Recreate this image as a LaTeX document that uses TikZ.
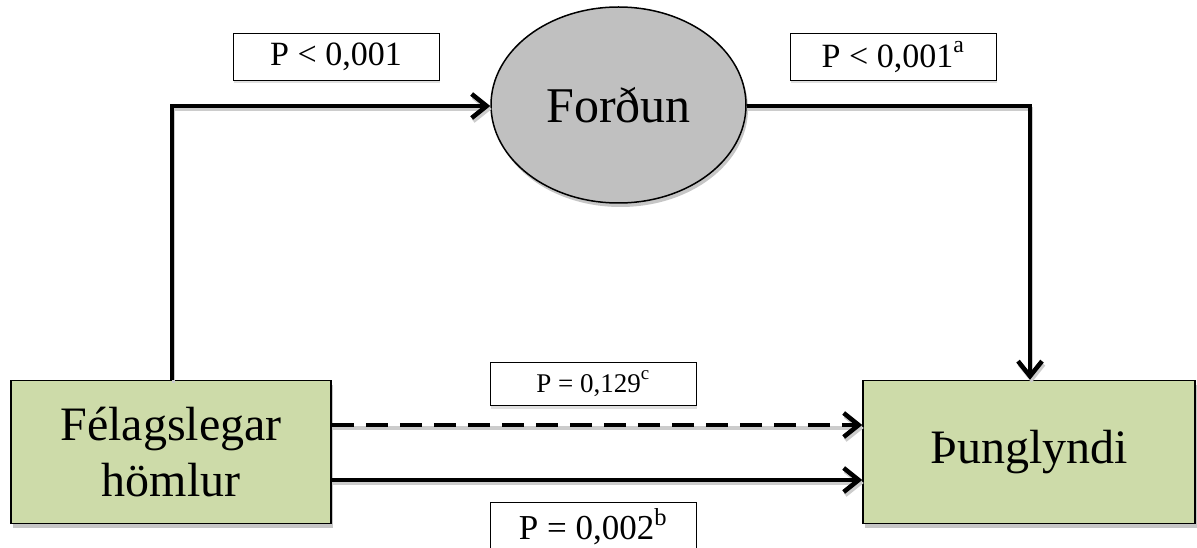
\documentclass[tikz,border=0pt]{standalone}
\usepackage{fontspec}
\setmainfont{Liberation Serif}
\usetikzlibrary{arrows.meta,shadows,shapes.geometric}
\definecolor{boxgreen}{HTML}{CDDBA9}
\definecolor{ellgray}{HTML}{C0C0C0}
\newcommand{\supmark}[1]{\raisebox{0.15em}{\textsuperscript{#1}}}
\tikzset{
  mainbox/.style={draw=black, line width=1.5pt, fill=boxgreen, minimum width=320pt, minimum height=143pt,
    align=center, font=\fontsize{48}{56}\selectfont, inner sep=0pt,
    drop shadow={shadow xshift=2pt, shadow yshift=-4pt, fill=gray!45, opacity=1}},
  pbox/.style={draw=black, line width=1pt, fill=white, inner sep=0pt, minimum width=206pt,
    drop shadow={shadow xshift=1pt, shadow yshift=-3pt, fill=gray!25, opacity=1}},
  conn/.style={line width=3.5pt, -{Straight Barb[length=15pt, width=24pt, line width=4.5pt]},
    preaction={draw=gray!40, line width=3.5pt, transform canvas={xshift=1.5pt, yshift=-3pt}}},
}
\begin{document}
\begin{tikzpicture}[x=1pt,y=-1pt]
\useasboundingbox (0,0) rectangle (1197,548);
% nodes
\node[mainbox] (fel) at (171,452) {Félagslegar\\hömlur};
\node[mainbox, minimum width=332pt] (thu) at (1029,452) {Þunglyndi};
\node[ellipse, draw=black, line width=1.5pt, fill=ellgray, minimum width=255pt, minimum height=196pt,
  inner sep=0pt, font=\fontsize{50}{56}\selectfont,
  drop shadow={shadow xshift=2pt, shadow yshift=-4pt, fill=gray!45, opacity=1}] (for) at (618.5,105) {Forðun};
% label boxes
\node[pbox, minimum height=47pt, font=\fontsize{34}{38}\selectfont] (p1) at (336,57) {P < 0,001};
\node[pbox, minimum height=47pt, font=\fontsize{34}{38}\selectfont] (p2) at (893,57) {P < 0,001\supmark{a}};
\node[pbox, minimum height=43pt, font=\fontsize{27}{32}\selectfont] (p3) at (593,384) {P = 0,129\supmark{c}};
\node[pbox, minimum height=50pt, font=\fontsize{35}{40}\selectfont] (p4) at (593,527) {P = 0,002\supmark{b}};
% connectors
\coordinate (c1) at (172,106);
\coordinate (c2) at (1030,106);
\draw[conn] (fel.north -| c1) -- (c1) -- (for.west |- c1);
\draw[conn] (for.east |- c2) -- (c2) -- (thu.north -| c2);
\draw[conn, dash pattern=on 22pt off 12pt] (fel.east |- 0,425) -- (thu.west |- 0,425);
\draw[conn] (fel.east |- 0,480) -- (thu.west |- 0,480);
\end{tikzpicture}
\end{document}
